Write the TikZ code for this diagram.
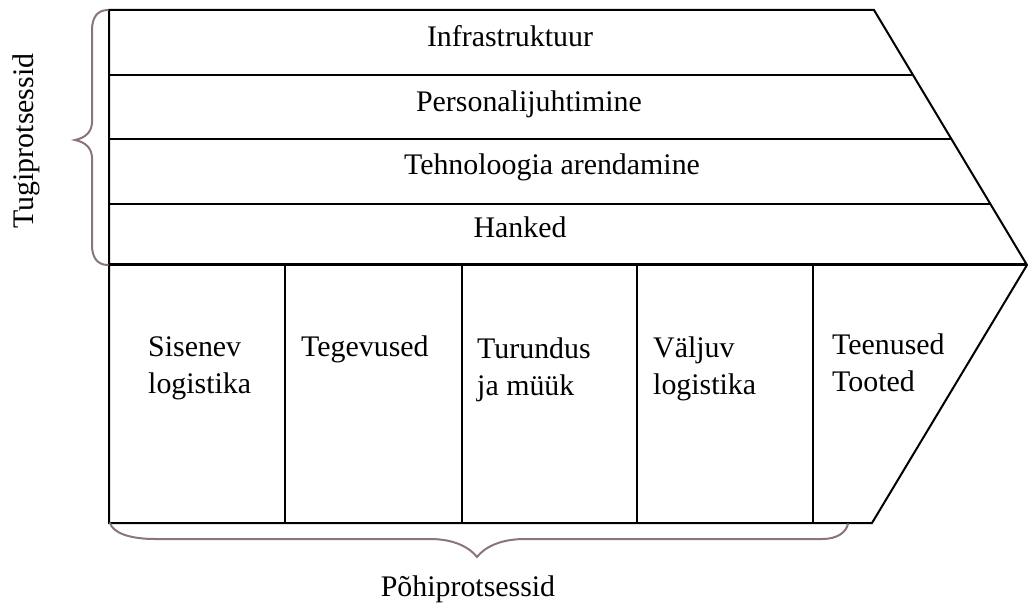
\documentclass[tikz,border=0pt]{standalone}
\usepackage{fontspec}
\setmainfont{Liberation Serif}
\definecolor{bracecol}{RGB}{138,116,128}
\begin{document}
\begin{tikzpicture}[x=1bp,y=-1bp,
  frame/.style={draw=black,line width=2bp,line join=miter},
  divider/.style={draw=black,line width=1.6bp},
  colline/.style={draw=black,line width=2.4bp},
  brace/.style={draw=bracecol,line width=2bp,line cap=round},
  label/.style={font=\fontsize{30}{37}\selectfont,inner sep=0pt},
  celltext/.style={label,align=left,anchor=base west}]
\useasboundingbox (0,0) rectangle (1029,604);

% corner points of the arrow-shaped outline
\coordinate (tl) at (109,10);
\coordinate (tr) at (874,10);
\coordinate (tip) at (1027,265);
\coordinate (br) at (872,523);
\coordinate (bl) at (109,523);

% support rows
\draw[divider] (109,75) -- (913,75);
\draw[divider] (109,139) -- (952,139);
\draw[divider] (109,204) -- (991,204);
\draw[black,line width=3bp] (109,265) -- (tip);

% primary columns
\foreach \x in {285,462,637,813}
  \draw[colline] (\x,265) -- (\x,523);

% outline
\draw[frame] (tl) -- (tr) -- (tip) -- (br) -- (bl) -- cycle;

% row labels
\node[label,anchor=base] (infra) at (510,47) {Infrastruktuur};
\node[label,anchor=base] (pers) at (529,112) {Personalijuhtimine};
\node[label,anchor=base] (tehn) at (552,175) {Tehnoloogia arendamine};
\node[label,anchor=base] (hank) at (520,238) {Hanked};

% column labels (base = baseline of the last line)
\node[celltext] (sis) at (148,393) {Sisenev\\logistika};
\node[celltext] (teg) at (301,356) {Tegevused};
\node[celltext] (tur) at (477,395) {Turundus\\ja müük};
\node[celltext] (valj) at (653,394) {Väljuv\\logistika};
\node[celltext] (teen) at (832,391) {Teenused\\Tooted};

% left brace
\draw[brace] (108,10) .. controls (97,10) and (92,18) .. (92,30)
  -- (92,122) .. controls (92,132) and (85,138) .. (75,140)
  .. controls (85,142) and (92,148) .. (92,158)
  -- (92,245) .. controls (92,257) and (97,265) .. (108,265);
\node[label,anchor=base,rotate=90] (tugi) at (33,141) {Tugiprotsessid};

% bottom brace
\draw[brace] (110,523) .. controls (113,533) and (130,539) .. (155,539)
  -- (430,539) .. controls (455,539) and (470,548) .. (477,557)
  .. controls (484,548) and (499,539) .. (525,539)
  -- (822,539) .. controls (838,539) and (846,532) .. (848,524);
\node[label,anchor=base] (pohi) at (468,596) {Põhiprotsessid};
\end{tikzpicture}
\end{document}
